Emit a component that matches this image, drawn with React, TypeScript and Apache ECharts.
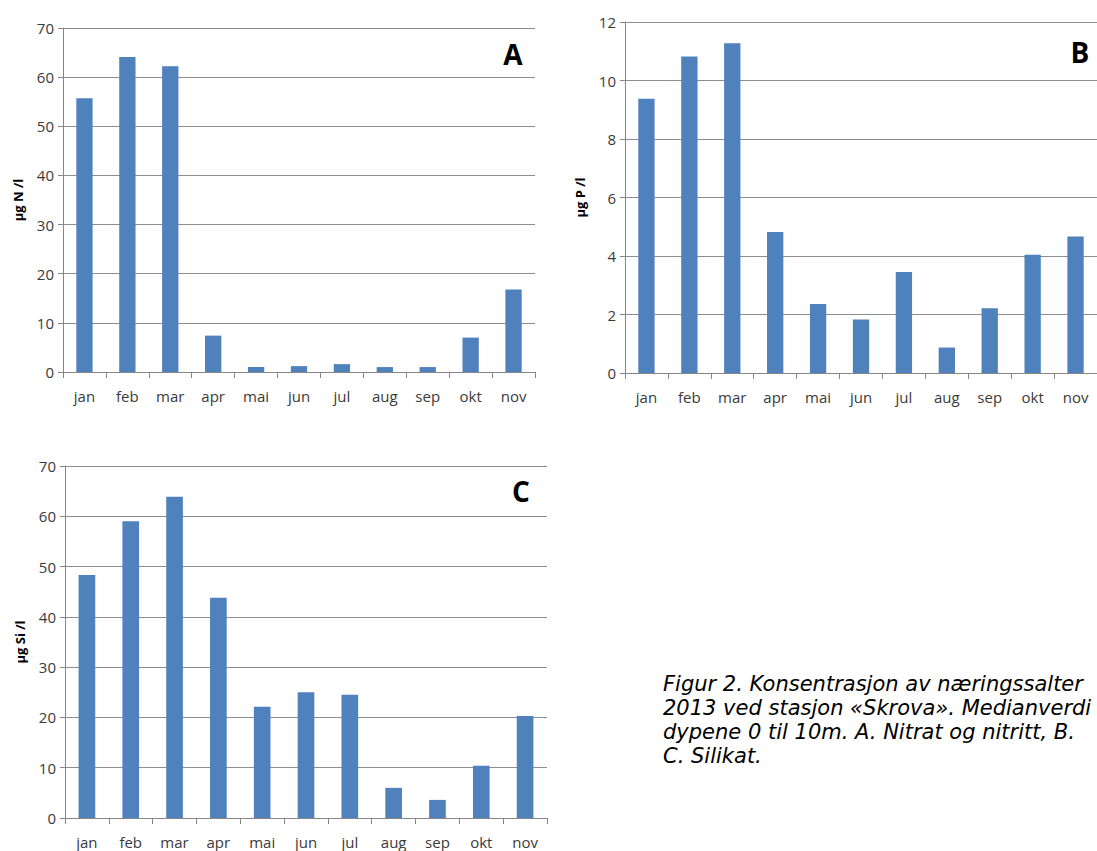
import React, { useEffect, useRef } from "react";
import * as echarts from "echarts";

const months = ["jan", "feb", "mar", "apr", "mai", "jun", "jul", "aug", "sep", "okt", "nov"];
const nitrat = [55.7, 64.1, 62.2, 7.4, 1.0, 1.2, 1.6, 1.0, 1.0, 7.0, 16.8];
const fosfat = [9.38, 10.82, 11.27, 4.82, 2.36, 1.83, 3.45, 0.87, 2.21, 4.04, 4.67];
const silikat = [48.3, 59.0, 63.9, 43.8, 22.1, 25.0, 24.5, 6.0, 3.6, 10.4, 20.3];
const yNames = ["µg N /l", "µg P /l", "µg Si /l"];
const panelLetters = ["A", "B", "C"];
const captionLines = [
  "Figur 2. Konsentrasjon av næringssalter",
  "2013 ved stasjon «Skrova». Medianverdi",
  "dypene 0 til 10m. A. Nitrat og nitritt, B.",
  "C. Silikat.",
];

const AXIS = "#868686";
const GRIDC = "#8e8e8e";
const LABEL = "#3a3a3a";
const BAR = "#4f81bd";
const FONT = "'Open Sans', sans-serif";

export default function App() {
  const ref = useRef<HTMLDivElement>(null);
  useEffect(() => {
    if (!ref.current) return;
    const chart = echarts.init(ref.current, null, { renderer: "svg" });
    const grids = [
      { left: 63, top: 28, width: 472, height: 344 },
      { left: 625, top: 22, width: 482, height: 351 },
      { left: 65, top: 466, width: 482, height: 352 },
    ];
    const maxes = [70, 12, 70];
    const intervals = [10, 2, 10];
    const data = [nitrat, fosfat, silikat];
    const xAxis = grids.map((_, i) => ({
      type: "category",
      gridIndex: i,
      data: months,
      boundaryGap: true,
      axisLine: { lineStyle: { color: AXIS, width: 1 } },
      axisTick: { show: true, length: 6, lineStyle: { color: AXIS } },
      axisLabel: { color: LABEL, fontSize: 15, fontFamily: FONT, margin: 16 },
    }));
    const yAxis = grids.map((_, i) => ({
      type: "value",
      gridIndex: i,
      min: 0,
      max: maxes[i],
      interval: intervals[i],
      name: yNames[i],
      nameLocation: "middle",
      nameGap: 39,
      nameTextStyle: { fontWeight: "bold", fontSize: 13, color: "#000", fontFamily: FONT },
      axisLine: { show: true, lineStyle: { color: AXIS, width: 1 } },
      axisTick: { show: true, length: 5, lineStyle: { color: AXIS } },
      axisLabel: { color: LABEL, fontSize: 15, fontFamily: FONT, margin: 9 },
      splitLine: { show: true, lineStyle: { color: GRIDC, width: 1 } },
    }));
    const series = data.map((d, i) => ({
      type: "bar",
      xAxisIndex: i,
      yAxisIndex: i,
      data: d,
      barWidth: "38%",
      itemStyle: { color: BAR },
    }));
    const letterPos = [
      [513, 54],
      [1080, 52],
      [521, 491],
    ];
    const graphic: any[] = panelLetters.map((t, i) => ({
      type: "text",
      x: letterPos[i][0],
      y: letterPos[i][1],
      style: {
        text: t,
        fill: "#000",
        font: `bold 28px ${FONT}`,
        textAlign: "center",
        textVerticalAlign: "middle",
      },
    }));
    captionLines.forEach((line, i) => {
      graphic.push({
        type: "text",
        x: 663,
        y: 684 + i * 24,
        style: {
          text: line,
          fill: "#000",
          font: `italic 21px 'DejaVu Sans', sans-serif`,
          textAlign: "left",
          textVerticalAlign: "middle",
        },
      });
    });
    chart.setOption({
      animation: false,
      backgroundColor: "#fff",
      grid: grids,
      xAxis,
      yAxis,
      series,
      graphic,
    });
    return () => chart.dispose();
  }, []);
  return (
    <div
      style={{
        position: "absolute",
        left: 0,
        top: 0,
        width: 1097,
        height: 851,
        overflow: "hidden",
        background: "#fff",
      }}
    >
      <div ref={ref} style={{ width: 1097, height: 851 }} />
    </div>
  );
}
